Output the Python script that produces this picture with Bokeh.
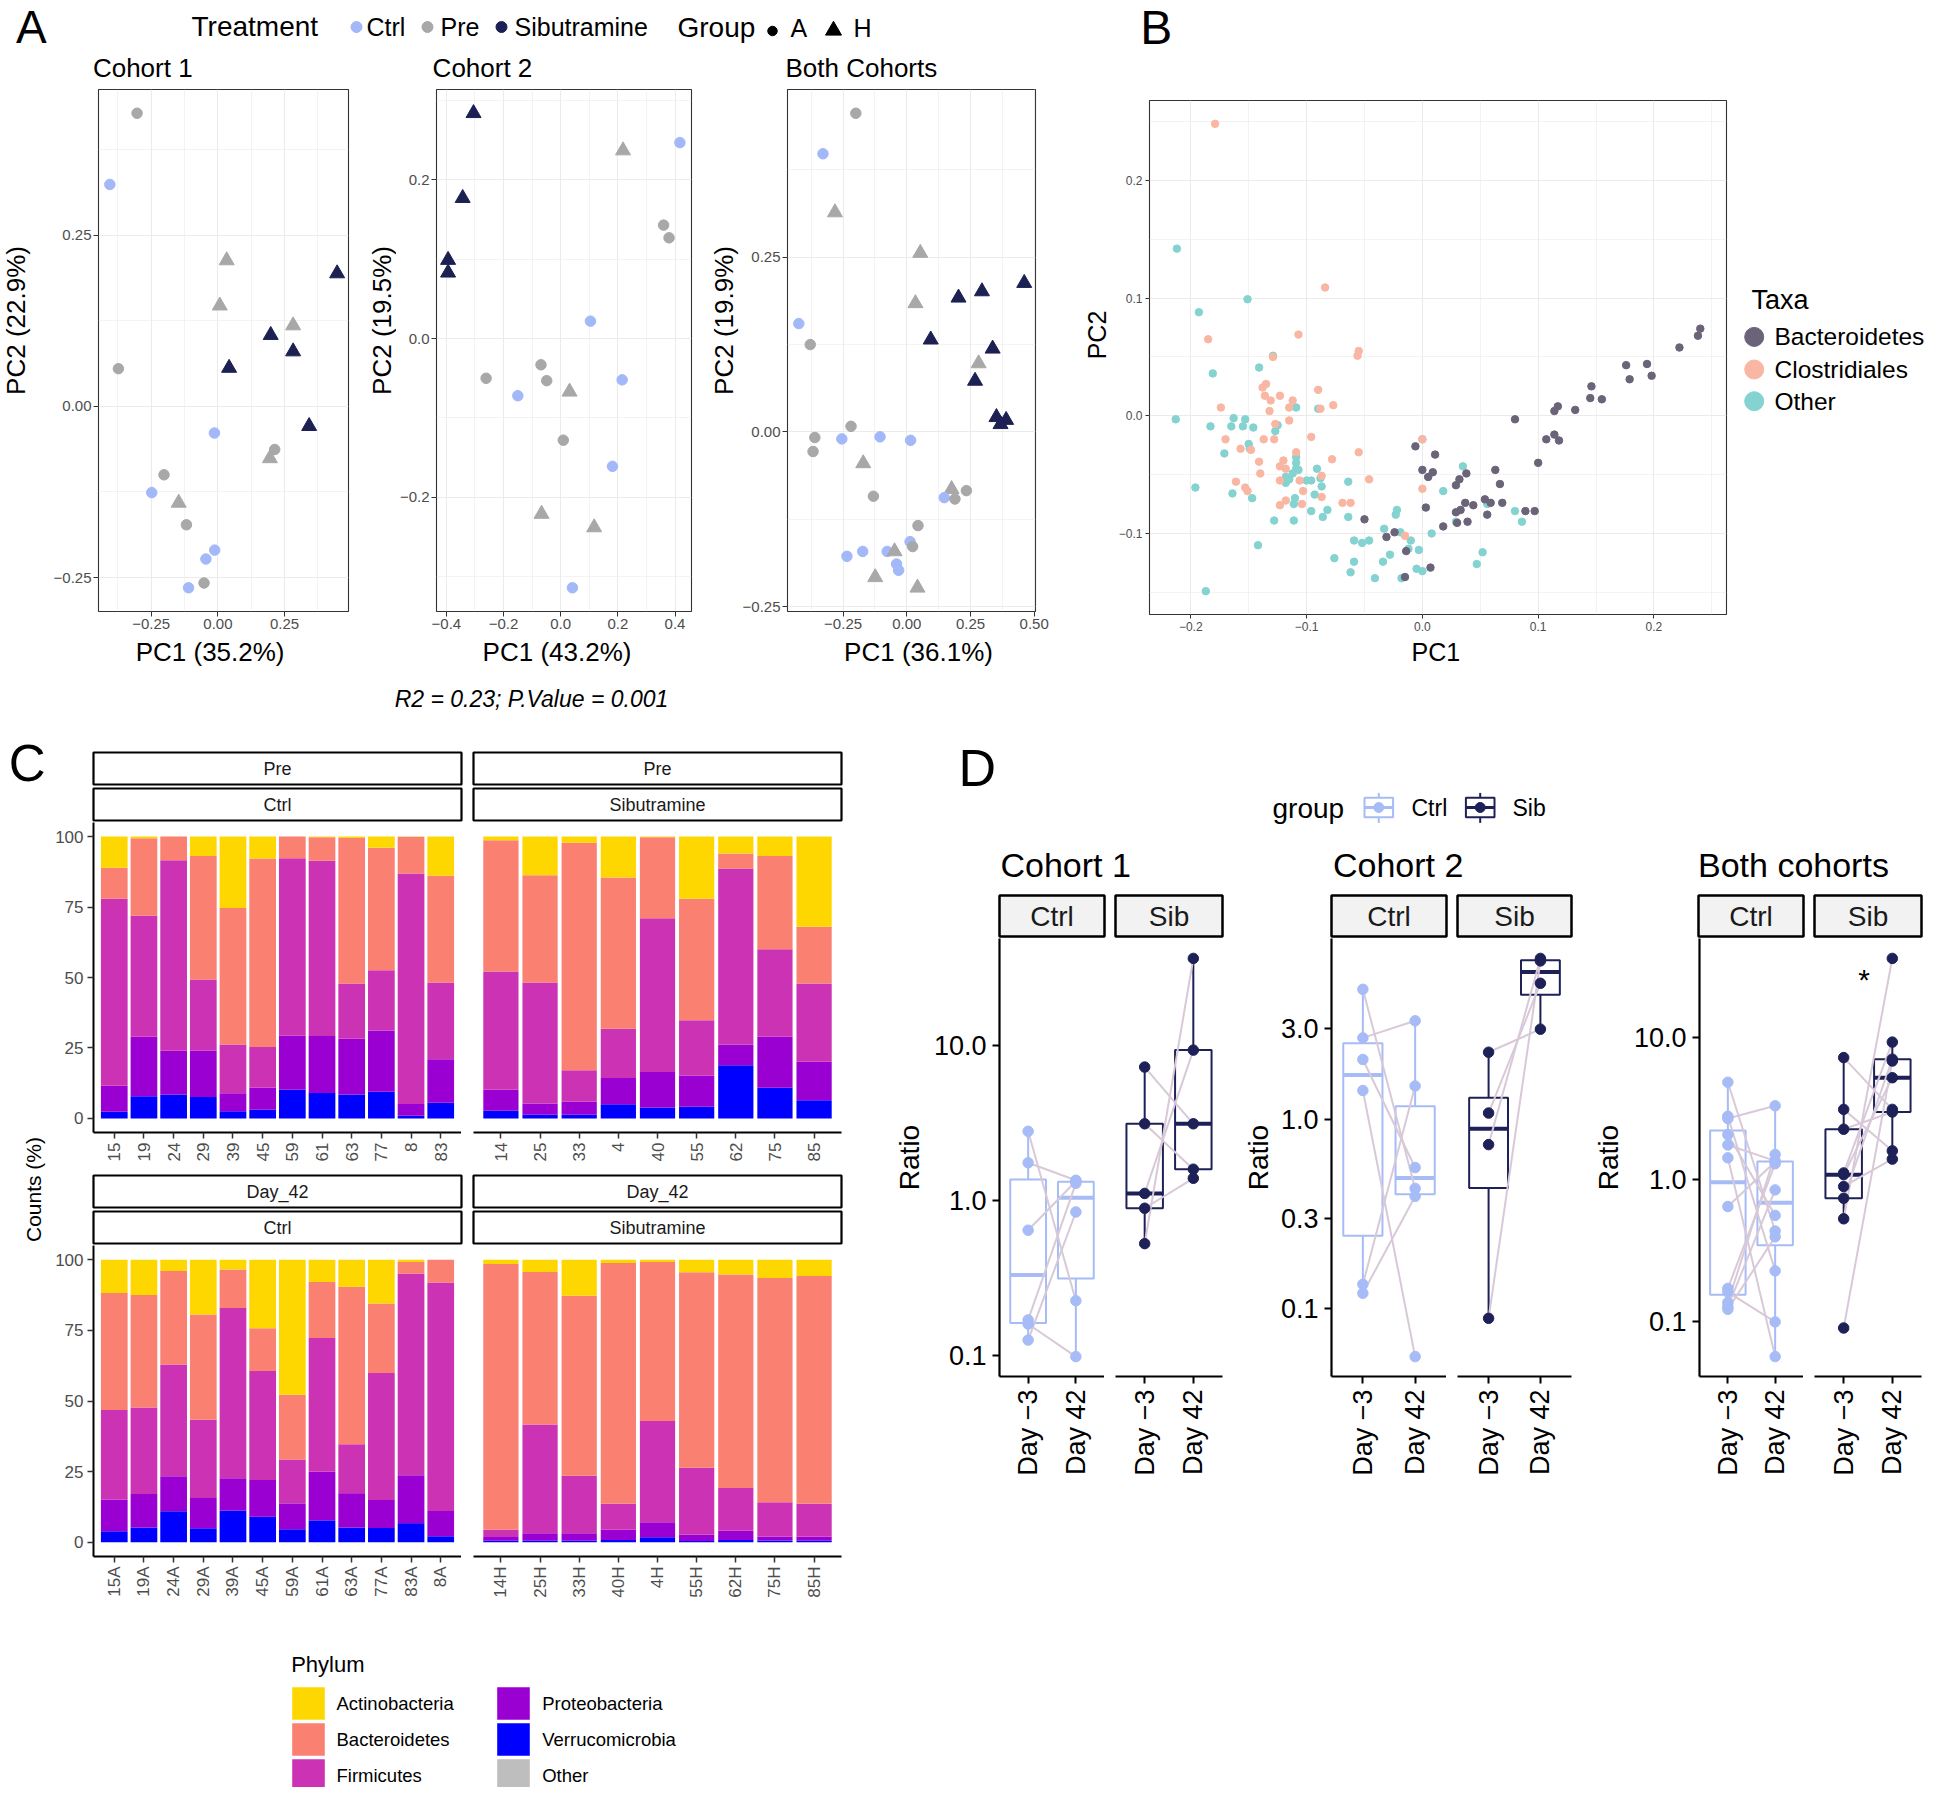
import math
import numpy as np
from bokeh.plotting import figure
from bokeh.layouts import row, column
from bokeh.models import (Range1d, FactorRange, FixedTicker, CustomJSTickFormatter,
                          Label, Spacer, ColumnDataSource)
from bokeh.embed import file_html
from bokeh.resources import INLINE

FONT = "Liberation Sans"

# ======================= DATA =======================
# ---- Panel A : PCoA scores (PC1, PC2), treatment, group ----
treatments = ["Ctrl", "Pre", "Sibutramine"]
groups = ["A", "H"]

c1_pc1 = [-0.303, -0.405, 0.033, 0.447, 0.007, 0.282, 0.198, 0.282, -0.373, 0.042, 0.342,
          -0.013, 0.213, 0.195, -0.202, -0.248, -0.147, -0.118, -0.012, -0.045, -0.052, -0.110]
c1_pc2 = [0.428, 0.324, 0.213, 0.194, 0.147, 0.118, 0.104, 0.080, 0.055, 0.056, -0.029,
          -0.039, -0.063, -0.076, -0.100, -0.126, -0.141, -0.173, -0.210, -0.223, -0.258, -0.265]
c1_treat = ["Pre", "Ctrl", "Pre", "Sibutramine", "Pre", "Pre", "Sibutramine", "Sibutramine", "Pre",
            "Sibutramine", "Sibutramine", "Ctrl", "Pre", "Pre", "Pre", "Ctrl", "Pre", "Pre", "Ctrl",
            "Ctrl", "Pre", "Ctrl"]
c1_group = ["A", "A", "H", "H", "H", "H", "H", "H", "A", "H", "H", "A", "A", "H", "A", "A", "H",
            "A", "A", "A", "A", "A"]

c2_pc1 = [-0.305, 0.417, 0.218, -0.343, 0.360, 0.379, -0.394, -0.394, 0.104, -0.069, -0.261,
          -0.049, 0.215, 0.031, -0.150, 0.009, 0.181, -0.067, 0.117, 0.041]
c2_pc2 = [0.284, 0.247, 0.237, 0.177, 0.143, 0.127, 0.099, 0.083, 0.022, -0.033, -0.050,
          -0.053, -0.052, -0.067, -0.072, -0.128, -0.161, -0.221, -0.238, -0.314]
c2_treat = ["Sibutramine", "Ctrl", "Pre", "Sibutramine", "Pre", "Pre", "Sibutramine", "Sibutramine",
            "Ctrl", "Pre", "Pre", "Pre", "Ctrl", "Pre", "Ctrl", "Pre", "Ctrl", "Pre", "Pre", "Ctrl"]
c2_group = ["H", "A", "H", "H", "A", "A", "H", "H", "A", "A", "A", "A", "A", "H", "A", "A", "A",
            "H", "H", "A"]

cb_pc1 = [-0.200, -0.329, -0.282, 0.053, 0.461, 0.295, 0.203, 0.034, -0.424, 0.094, -0.379, 0.337,
          0.282, 0.268, 0.352, 0.390, 0.368, -0.219, -0.361, -0.255, -0.105, 0.015, -0.368, -0.171,
          -0.131, 0.176, 0.234, 0.147, 0.189, 0.044, 0.013, 0.023, -0.235, -0.173, -0.077, -0.048,
          -0.040, -0.032, -0.124, 0.042]
cb_pc2 = [0.456, 0.398, 0.314, 0.256, 0.213, 0.201, 0.192, 0.184, 0.155, 0.132, 0.125, 0.119,
          0.098, 0.073, 0.021, 0.017, 0.011, 0.008, -0.008, -0.010, -0.007, -0.012, -0.028, -0.045,
          -0.092, -0.082, -0.084, -0.094, -0.096, -0.134, -0.157, -0.164, -0.178, -0.171, -0.171,
          -0.171, -0.189, -0.198, -0.208, -0.223]
cb_treat = ["Pre", "Ctrl", "Pre", "Pre", "Sibutramine", "Sibutramine", "Sibutramine", "Pre", "Ctrl",
            "Sibutramine", "Pre", "Sibutramine", "Pre", "Sibutramine", "Sibutramine", "Sibutramine",
            "Sibutramine", "Pre", "Pre", "Ctrl", "Ctrl", "Ctrl", "Pre", "Pre", "Pre", "Pre", "Pre",
            "Ctrl", "Pre", "Pre", "Ctrl", "Pre", "Ctrl", "Ctrl", "Ctrl", "Pre", "Ctrl", "Ctrl", "Pre",
            "Pre"]
cb_group = ["A", "A", "H", "H", "H", "H", "H", "H", "A", "H", "A", "H", "H", "H", "H", "H", "H",
            "A", "A", "A", "A", "A", "A", "H", "A", "H", "A", "A", "A", "A", "A", "A", "A", "A",
            "A", "H", "A", "A", "H", "H"]

# ---- Panel B : taxa loadings ----
taxa = ["Bacteroidetes", "Clostridiales", "Other"]
bact_pc1 = [0.240, 0.238, 0.222, 0.176, 0.194, 0.179, 0.198, 0.146, 0.145, 0.155, 0.117, 0.114,
            0.132, 0.080, 0.107, 0.114, 0.118, 0.100, -0.006, 0.011, 0.000, 0.009, 0.005, 0.063,
            0.038, 0.032, 0.029, 0.067, 0.003, 0.037, 0.044, 0.054, 0.059, 0.069, 0.033, 0.029,
            0.056, 0.089, 0.097, 0.030, 0.039, 0.018, -0.050, -0.031, -0.024, -0.014, 0.007, -0.015]
bact_pc2 = [0.074, 0.068, 0.058, 0.043, 0.044, 0.031, 0.034, 0.025, 0.015, 0.014, 0.008, 0.004,
            0.005, -0.003, -0.020, -0.016, -0.021, -0.040, -0.026, -0.033, -0.046, -0.048, -0.052,
            -0.046, -0.049, -0.054, -0.059, -0.058, -0.078, -0.074, -0.076, -0.071, -0.074, -0.074,
            -0.080, -0.082, -0.084, -0.081, -0.081, -0.091, -0.090, -0.094, -0.088, -0.103, -0.099,
            -0.115, -0.129, -0.137]
clos_pc1 = [-0.179, -0.084, -0.185, -0.107, -0.055, -0.056, -0.129, -0.135, -0.138, -0.136, -0.131,
            -0.123, -0.112, -0.090, -0.115, -0.174, -0.132, -0.077, -0.088, -0.127, -0.115, -0.096,
            -0.170, -0.137, -0.128, -0.157, -0.148, -0.109, -0.055, -0.141, -0.078, -0.120, -0.123,
            -0.140, -0.118, -0.087, -0.161, -0.123, -0.106, -0.046, -0.153, -0.151, -0.103, -0.087,
            -0.123, -0.118, -0.104, -0.069, -0.062, 0.000, 0.000, -0.015]
clos_pc2 = [0.248, 0.109, 0.065, 0.069, 0.055, 0.051, 0.050, 0.027, 0.024, 0.017, 0.013, 0.017,
            0.013, 0.022, 0.007, 0.007, 0.004, 0.009, 0.006, -0.007, -0.004, -0.018, -0.020, -0.020,
            -0.020, -0.028, -0.029, -0.031, -0.031, -0.039, -0.037, -0.038, -0.043, -0.049, -0.045,
            -0.051, -0.056, -0.055, -0.055, -0.054, -0.061, -0.064, -0.064, -0.069, -0.076, -0.072,
            -0.075, -0.074, -0.074, -0.020, -0.062, -0.102]
oth_pc1 = [-0.212, -0.151, -0.193, -0.129, -0.141, -0.181, -0.109, -0.090, -0.213, -0.163, -0.153,
           -0.183, -0.165, -0.155, -0.146, -0.125, -0.127, -0.150, -0.149, -0.171, -0.109, -0.109,
           -0.091, -0.109, -0.107, -0.112, -0.118, -0.118, -0.115, -0.100, -0.096, -0.088, -0.087,
           -0.064, -0.196, -0.164, -0.147, -0.110, -0.093, -0.111, -0.096, -0.082, -0.086, -0.064,
           -0.128, -0.111, -0.142, -0.187, -0.022, -0.023, 0.000, 0.035, 0.018, 0.056, 0.080, 0.086,
           -0.033, -0.019, -0.010, 0.008, -0.059, -0.052, -0.046, -0.076, -0.059, -0.062, -0.034,
           -0.028, -0.041, -0.018, -0.012, -0.003, -0.005, 0.000, 0.047, 0.052, 0.029]
oth_pc2 = [0.142, 0.099, 0.088, 0.051, 0.041, 0.036, 0.007, 0.006, -0.003, -0.002, -0.003, -0.009,
           -0.009, -0.009, -0.010, -0.008, -0.013, -0.024, -0.028, -0.032, -0.035, -0.040, -0.045,
           -0.045, -0.046, -0.049, -0.052, -0.057, -0.054, -0.055, -0.055, -0.053, -0.060, -0.056,
           -0.061, -0.066, -0.070, -0.070, -0.067, -0.075, -0.081, -0.080, -0.086, -0.086, -0.089,
           -0.089, -0.110, -0.149, -0.080, -0.084, -0.020, -0.043, -0.064, -0.075, -0.081, -0.090,
           -0.096, -0.099, -0.106, -0.100, -0.106, -0.108, -0.106, -0.121, -0.124, -0.133, -0.124,
           -0.118, -0.138, -0.138, -0.113, -0.114, -0.130, -0.132, -0.126, -0.116, -0.090]

# ---- Panel C : relative abundance (%) per phylum ----
phyla = ["Actinobacteria", "Bacteroidetes", "Firmicutes", "Proteobacteria", "Verrucomicrobia", "Other"]

pre_ctrl_samples = ["15", "19", "24", "29", "39", "45", "59", "61", "63", "77", "8", "83"]
pre_ctrl_actino = [11.1, 0.6, 0.0, 6.9, 25.3, 7.8, 0.0, 0.2, 0.5, 4.0, 0.1, 13.9]
pre_ctrl_bact = [11.0, 27.5, 8.4, 43.8, 48.5, 66.9, 7.7, 8.4, 51.6, 43.4, 13.0, 37.9]
pre_ctrl_firm = [66.3, 42.9, 67.6, 25.3, 17.3, 14.4, 62.9, 62.2, 19.6, 21.4, 81.8, 27.2]
pre_ctrl_proteo = [9.2, 21.1, 15.5, 16.4, 6.4, 7.8, 19.2, 20.2, 19.8, 21.7, 4.2, 15.4]
pre_ctrl_verru = [2.4, 7.9, 8.5, 7.6, 2.5, 3.1, 10.2, 9.0, 8.5, 9.5, 0.9, 5.6]
pre_ctrl_other = [0.0] * 12

pre_sib_samples = ["14", "25", "33", "4", "40", "55", "62", "75", "85"]
pre_sib_actino = [1.3, 13.7, 2.2, 14.5, 0.2, 22.1, 6.0, 6.9, 32.0]
pre_sib_bact = [46.6, 38.1, 80.7, 53.7, 28.8, 43.1, 5.3, 33.1, 20.1]
pre_sib_firm = [41.9, 42.9, 11.1, 17.5, 54.5, 19.7, 62.5, 31.0, 27.8]
pre_sib_proteo = [7.5, 4.0, 4.7, 9.3, 12.6, 11.0, 7.3, 18.1, 13.7]
pre_sib_verru = [2.7, 1.3, 1.3, 5.0, 3.9, 4.1, 18.9, 10.9, 6.4]
pre_sib_other = [0.0] * 9

d42_ctrl_samples = ["15A", "19A", "24A", "29A", "39A", "45A", "59A", "61A", "63A", "77A", "83A", "8A"]
d42_ctrl_actino = [11.8, 12.5, 4.0, 19.4, 3.5, 24.3, 47.8, 7.9, 9.6, 15.5, 0.8, 0.0]
d42_ctrl_bact = [41.4, 39.8, 33.1, 37.2, 13.6, 15.1, 22.9, 19.8, 55.7, 24.6, 4.2, 8.1]
d42_ctrl_firm = [31.6, 30.6, 39.5, 27.7, 60.2, 38.5, 15.5, 47.3, 17.3, 44.9, 71.3, 80.8]
d42_ctrl_proteo = [11.3, 11.8, 12.4, 10.7, 11.4, 13.0, 9.2, 17.2, 12.1, 9.9, 16.9, 8.9]
d42_ctrl_verru = [3.9, 5.3, 11.0, 5.0, 11.3, 9.1, 4.6, 7.8, 5.3, 5.1, 6.8, 2.2]
d42_ctrl_other = [0.0] * 12

d42_sib_samples = ["14H", "25H", "33H", "40H", "4H", "55H", "62H", "75H", "85H"]
d42_sib_actino = [1.5, 4.4, 12.8, 1.2, 0.8, 4.5, 5.3, 6.5, 5.8]
d42_sib_bact = [94.0, 53.9, 63.6, 85.1, 56.3, 69.1, 75.5, 79.3, 80.5]
d42_sib_firm = [2.6, 38.5, 20.4, 9.2, 35.8, 23.6, 15.1, 12.1, 11.7]
d42_sib_proteo = [1.3, 2.6, 2.6, 3.7, 5.3, 2.3, 3.3, 1.4, 1.4]
d42_sib_verru = [0.6, 0.6, 0.6, 0.8, 1.8, 0.5, 0.8, 0.7, 0.6]
d42_sib_other = [0.0] * 9

# ---- Panel D : ratio, paired Day -3 / Day 42 per animal (same order in both lists) ----
days = ["Day \u22123", "Day 42"]
d_groups = ["Ctrl", "Sib"]
c1_ctrl_d3 = [2.79, 1.75, 0.643, 0.170, 0.160, 0.126]
c1_ctrl_d42 = [0.226, 1.35, 1.33, 1.29, 0.0986, 0.843]
c1_sib_d3 = [7.24, 3.12, 1.11, 0.891, 0.527]
c1_sib_d42 = [3.12, 1.59, 9.31, 1.39, 36.3]
c2_ctrl_d3 = [4.85, 2.69, 2.07, 1.42, 0.135, 0.121]
c2_ctrl_d42 = [0.432, 3.31, 0.557, 0.0561, 1.50, 0.393]
c2_sib_d3 = [2.26, 1.08, 0.736, 0.0893]
c2_sib_d42 = [2.99, 5.22, 7.06, 6.85]

# ======================= STYLE =======================
TREAT_COLORS = {"Ctrl": "#A3B8F9", "Pre": "#A8A8A8", "Sibutramine": "#1C2052"}
MARKERS = {"A": "circle", "H": "triangle"}
MSIZE = {"A": 10.5, "H": 15}
TAXA_COLORS = {"Bacteroidetes": "#6B6378", "Clostridiales": "#F9B7A3", "Other": "#84D3D1"}
PHYLUM_COLORS = {"Actinobacteria": "#FFD700", "Bacteroidetes": "#FA8072", "Firmicutes": "#CC33B4",
                 "Proteobacteria": "#9A00D2", "Verrucomicrobia": "#0000FF", "Other": "#BEBEBE"}
D_COLORS = {"Ctrl": "#A7BCF6", "Sib": "#1E2157"}
PAIR_LINE = "#D8C9D8"
GRID = "#EBEBEB"
TICK_TXT = "#4D4D4D"


def fmt(dec):
    return CustomJSTickFormatter(args=dict(d=dec), code="""
        const s = Math.abs(tick).toFixed(d);
        return (tick < -1e-9 ? "\\u2212" : "") + s;
    """)


def expand(vals, frac=0.05):
    lo, hi = min(vals), max(vals)
    d = (hi - lo) * frac
    return lo - d, hi + d


def lab(p, text, x, y, size, align="left", angle=0.0, color="black", style="normal"):
    """Text whose em-box middle sits at (x, y)."""
    p.add_layout(Label(x=x, y=y, x_units="data", y_units="data", text=text, text_font=FONT,
                       text_font_size=f"{size}px", text_align=align, text_baseline="middle",
                       angle=angle, text_color=color, text_font_style=style))


def pix_fig(w, h, bottom=0):
    """Blank canvas whose data units are pixels measured from its top-left corner.
    `bottom` matches the bottom border of sibling plots in the same row."""
    p = figure(width=w, height=h, x_range=Range1d(0, w), y_range=Range1d(h - bottom, 0),
               toolbar_location=None, tools="", output_backend="svg", min_border=0,
               min_border_bottom=bottom, x_axis_location=None, y_axis_location=None)
    p.outline_line_color = None
    p.grid.visible = False
    p.background_fill_color = "white"
    p.border_fill_color = "white"
    return p


def strip(text, w, h, fill, size, lw):
    p = figure(width=w, height=h, x_range=Range1d(0, 1), y_range=Range1d(0, 1),
               toolbar_location=None, tools="", output_backend="svg", min_border=2,
               x_axis_location=None, y_axis_location=None)
    p.grid.visible = False
    p.background_fill_color = fill
    p.border_fill_color = "white"
    p.outline_line_color = "black"
    p.outline_line_width = lw
    lab(p, text, 0.5, 0.5, size, align="center", color="#1A1A1A")
    return p


def ylab_fig(w, h, bottom, text, cx, cy, size):
    p = pix_fig(w, h, bottom)
    lab(p, text, cx, cy, size, align="center", angle=math.pi / 2)
    return p


# ======================= PANEL A =======================
def pca_fig(w, h, left, right, bottom, xs, ys, treat, grp, xt, xm, yt, ym, dec):
    x0, x1 = expand(xs)
    y0, y1 = expand(ys)
    p = figure(width=w, height=h, x_range=Range1d(x0, x1), y_range=Range1d(y0, y1),
               toolbar_location=None, tools="", output_backend="svg",
               min_border_left=left, min_border_right=right, min_border_top=0,
               min_border_bottom=bottom)
    p.outline_line_color = "#333333"
    p.outline_line_width = 1.1
    xtk = FixedTicker(ticks=xt, minor_ticks=xm)
    ytk = FixedTicker(ticks=yt, minor_ticks=ym)
    p.xaxis.ticker = xtk
    p.xgrid.ticker = xtk
    p.yaxis.ticker = ytk
    p.ygrid.ticker = ytk
    p.xaxis.formatter = fmt(dec[0])
    p.yaxis.formatter = fmt(dec[1])
    p.grid.grid_line_color = GRID
    p.grid.grid_line_width = 1.1
    p.grid.minor_grid_line_color = GRID
    p.grid.minor_grid_line_width = 0.6
    p.axis.axis_line_color = None
    p.axis.major_tick_line_color = "#333333"
    p.axis.major_tick_out = 5
    p.axis.major_tick_in = 0
    p.axis.minor_tick_out = 0
    p.axis.minor_tick_in = 0
    p.axis.major_label_text_font = FONT
    p.axis.major_label_text_font_size = "15px"
    p.axis.major_label_text_color = TICK_TXT
    p.axis.major_label_standoff = 2
    src = ColumnDataSource(dict(x=xs, y=ys, color=[TREAT_COLORS[t] for t in treat],
                                marker=[MARKERS[g] for g in grp], size=[MSIZE[g] for g in grp]))
    p.scatter("x", "y", marker="marker", size="size", fill_color="color", line_color="color",
              source=src)
    return p


AH, AB = 547, 25
fA1 = pca_fig(329, AH, 66, 13, AB, c1_pc1, c1_pc2, c1_treat, c1_group,
              [-0.25, 0, 0.25], [-0.375, -0.125, 0.125, 0.375],
              [-0.25, 0, 0.25], [-0.375, -0.125, 0.125, 0.375], (2, 2))
fA2 = pca_fig(305, AH, 36, 10, AB, c2_pc1, c2_pc2, c2_treat, c2_group,
              [-0.4, -0.2, 0, 0.2, 0.4], [-0.3, -0.1, 0.1, 0.3],
              [-0.2, 0, 0.2], [-0.3, -0.1, 0.1, 0.3], (1, 1))
fA3 = pca_fig(342, AH, 46, 46, AB, cb_pc1, cb_pc2, cb_treat, cb_group,
              [-0.25, 0, 0.25, 0.5], [-0.375, -0.125, 0.125, 0.375],
              [-0.25, 0, 0.25], [-0.375, -0.125, 0.125, 0.375], (2, 2))

pA1 = ylab_fig(32, AH, AB, "PC2 (22.9%)", 15.5, 231, 26)
pA2 = ylab_fig(35, AH, AB, "PC2 (19.5%)", 20, 231, 26)
pA3 = ylab_fig(38, AH, AB, "PC2 (19.9%)", 22.6, 231, 26)

hdrA = pix_fig(1081, 89)
lab(hdrA, "A", 15.6, 26.7, 46)
lab(hdrA, "Treatment", 191, 26.2, 28)
lab(hdrA, "Group", 677, 26.7, 28)
treat_key_x = [356, 427, 501]
treat_txt_x = [366, 440, 514]
hdrA.scatter(treat_key_x, [26.5] * 3, marker="circle", size=11,
             color=[TREAT_COLORS[t] for t in treatments])
for t, x in zip(treatments, treat_txt_x):
    lab(hdrA, t, x, 26.5, 25)
hdrA.scatter([772], [30.5], marker="circle", size=9.5, color="black")
hdrA.scatter([833], [30], marker="triangle", size=16, color="black")
lab(hdrA, groups[0], 790, 27, 25)
lab(hdrA, groups[1], 853, 27, 25)
lab(hdrA, "Cohort 1", 92.4, 67.2, 26)
lab(hdrA, "Cohort 2", 432.1, 67.2, 26)
lab(hdrA, "Both Cohorts", 785, 67.2, 26)

ftrA = pix_fig(1081, 94)
lab(ftrA, "PC1 (35.2%)", 209.6, 15.5, 26, align="center")
lab(ftrA, "PC1 (43.2%)", 556.5, 15.5, 26, align="center")
lab(ftrA, "PC1 (36.1%)", 918, 15.5, 26, align="center")
lab(ftrA, "R2 = 0.23; P.Value = 0.001", 531, 62, 23, align="center", style="italic")

colA = column(hdrA, row(pA1, fA1, pA2, fA2, pA3, fA3), ftrA)

# ======================= PANEL B =======================
all_b_x = bact_pc1 + clos_pc1 + oth_pc1
all_b_y = bact_pc2 + clos_pc2 + oth_pc2
bx0, bx1 = expand(all_b_x)
by0, by1 = expand(all_b_y)
BH, BB = 536, 22
fB = figure(width=628, height=BH, x_range=Range1d(bx0, bx1), y_range=Range1d(by0, by1),
            toolbar_location=None, tools="", output_backend="svg",
            min_border_left=37, min_border_right=14, min_border_top=0, min_border_bottom=BB)
fB.outline_line_color = "#333333"
fB.outline_line_width = 1.1
bxt = FixedTicker(ticks=[-0.2, -0.1, 0, 0.1, 0.2], minor_ticks=[-0.25, -0.15, -0.05, 0.05, 0.15, 0.25])
byt = FixedTicker(ticks=[-0.1, 0, 0.1, 0.2], minor_ticks=[-0.15, -0.05, 0.05, 0.15, 0.25])
fB.xaxis.ticker = bxt
fB.xgrid.ticker = bxt
fB.yaxis.ticker = byt
fB.ygrid.ticker = byt
fB.xaxis.formatter = fmt(1)
fB.yaxis.formatter = fmt(1)
fB.grid.grid_line_color = GRID
fB.grid.grid_line_width = 1.1
fB.grid.minor_grid_line_color = GRID
fB.grid.minor_grid_line_width = 0.6
fB.axis.axis_line_color = None
fB.axis.major_tick_line_color = "#333333"
fB.axis.major_tick_out = 4
fB.axis.major_tick_in = 0
fB.axis.minor_tick_out = 0
fB.axis.minor_tick_in = 0
fB.axis.major_label_text_font = FONT
fB.axis.major_label_text_font_size = "12px"
fB.axis.major_label_text_color = TICK_TXT
fB.axis.major_label_standoff = 3
fB.scatter(oth_pc1, oth_pc2, size=7.5, color=TAXA_COLORS["Other"])
fB.scatter(clos_pc1, clos_pc2, size=7.5, color=TAXA_COLORS["Clostridiales"])
fB.scatter(bact_pc1, bact_pc2, size=7.5, color=TAXA_COLORS["Bacteroidetes"])

hdrB = pix_fig(847, 100)
lab(hdrB, "B", 58.8, 27.2, 48)
pB = ylab_fig(31, BH, BB, "PC2", 15.5, 234.5, 25)
legB = pix_fig(188, BH, BB)
lab(legB, "Taxa", 11, 199.3, 27)
taxa_key_y = [236.4, 269, 300.7]
legB.scatter([13.7] * 3, taxa_key_y, size=19, color=[TAXA_COLORS[t] for t in taxa])
for t, y in zip(taxa, taxa_key_y):
    lab(legB, t, 34, y, 24.5)
ftrB = pix_fig(847, 94)
lab(ftrB, "PC1", 354.3, 15.5, 25, align="center")

colB = column(hdrB, row(pB, fB, legB), ftrB)
top = row(colA, colB)

# ======================= PANEL C =======================
STACK = ["Other", "Verrucomicrobia", "Proteobacteria", "Firmicutes", "Bacteroidetes", "Actinobacteria"]


def facet(samples, data, w, h, left, right, bottom, show_y):
    xr = FactorRange(factors=samples, range_padding=0.2, range_padding_units="absolute")
    p = figure(width=w, height=h, x_range=xr, y_range=Range1d(-5, 105), toolbar_location=None,
               tools="", output_backend="svg", min_border_left=left, min_border_right=right,
               min_border_top=0, min_border_bottom=bottom,
               y_axis_location="left" if show_y else None)
    p.outline_line_color = None
    p.grid.visible = False
    src = ColumnDataSource(dict(sample=samples, **data))
    p.vbar_stack(STACK, x="sample", width=0.9, source=src,
                 fill_color=[PHYLUM_COLORS[s] for s in STACK], line_color=None)
    p.axis.axis_line_color = "black"
    p.axis.axis_line_width = 2
    p.axis.major_tick_line_color = "#333333"
    p.axis.major_tick_line_width = 1.5
    p.axis.major_tick_out = 6
    p.axis.major_tick_in = 0
    p.axis.minor_tick_out = 0
    p.axis.minor_tick_in = 0
    p.axis.major_label_text_font = FONT
    p.axis.major_label_text_font_size = "17px"
    p.axis.major_label_text_color = TICK_TXT
    p.axis.major_label_standoff = 4
    p.xaxis.major_label_orientation = math.pi / 2
    if show_y:
        p.yaxis.ticker = FixedTicker(ticks=[0, 25, 50, 75, 100])
    return p


def pdata(a, b, f, pr, v, o):
    return {"Actinobacteria": a, "Bacteroidetes": b, "Firmicutes": f, "Proteobacteria": pr,
            "Verrucomicrobia": v, "Other": o}


fCTL = facet(pre_ctrl_samples, pdata(pre_ctrl_actino, pre_ctrl_bact, pre_ctrl_firm, pre_ctrl_proteo,
                                     pre_ctrl_verru, pre_ctrl_other), 415, 351, 47, 0, 41, True)
fCTR = facet(pre_sib_samples, pdata(pre_sib_actino, pre_sib_bact, pre_sib_firm, pre_sib_proteo,
                                    pre_sib_verru, pre_sib_other), 400, 351, 12, 20, 41, False)
fCBL = facet(d42_ctrl_samples, pdata(d42_ctrl_actino, d42_ctrl_bact, d42_ctrl_firm, d42_ctrl_proteo,
                                     d42_ctrl_verru, d42_ctrl_other), 415, 395, 47, 0, 84, True)
fCBR = facet(d42_sib_samples, pdata(d42_sib_actino, d42_sib_bact, d42_sib_firm, d42_sib_proteo,
                                    d42_sib_verru, d42_sib_other), 400, 395, 12, 20, 84, False)


def strip_row_c(t1, t2):
    return row(Spacer(width=45, height=36), strip(t1, 372, 36, "white", 18, 2.2),
               Spacer(width=8, height=36), strip(t2, 372, 36, "white", 18, 2.2),
               Spacer(width=18, height=36))


legC = pix_fig(815, 147)
lab(legC, "Phylum", 244.7, 23.5, 22)
key_cols_x = [262, 467]
txt_cols_x = [290, 495.7]
key_rows_y = [63, 99, 135]
kx = [key_cols_x[i // 3] for i in range(len(phyla))]
ky = [key_rows_y[i % 3] for i in range(len(phyla))]
legC.rect(kx, ky, width=32.6, height=32.6, fill_color=[PHYLUM_COLORS[p] for p in phyla],
          line_color=None)
for i, ph in enumerate(phyla):
    lab(legC, ph, txt_cols_x[i // 3], key_rows_y[i % 3], 18.5)

cInner = column(Spacer(width=815, height=20),
                strip_row_c("Pre", "Pre"),
                strip_row_c("Ctrl", "Sibutramine"),
                row(fCTL, fCTR),
                strip_row_c("Day_42", "Day_42"),
                strip_row_c("Ctrl", "Sibutramine"),
                row(fCBL, fCBR),
                legC)
cLab = pix_fig(46, 1057)
lab(cLab, "C", 8.2, 33.2, 51)
lab(cLab, "Counts (%)", 33, 459, 21, align="center", angle=math.pi / 2)
panelC = row(cLab, cInner)

# ======================= PANEL D =======================


def box_stats(vals):
    lv = np.log10(np.asarray(vals, dtype=float))
    q1, med, q3 = np.percentile(lv, [25, 50, 75])
    iqr = q3 - q1
    lo = lv[lv >= q1 - 1.5 * iqr].min()
    hi = lv[lv <= q3 + 1.5 * iqr].max()
    return [10 ** q1, 10 ** med, 10 ** q3, 10 ** lo, 10 ** hi]


def log_range(vals, frac=0.05):
    lv = np.log10(np.asarray(vals, dtype=float))
    d = (lv.max() - lv.min()) * frac
    return 10 ** (lv.min() - d), 10 ** (lv.max() + d)


DH, DB = 558, 120


def d_fig(w, left, right, d3, d42, grp, yr, show_y, yticks=None, star=None):
    n_cat = len(days)
    p = figure(width=w, height=DH, x_range=Range1d(1 - 0.6, n_cat + 0.6), y_range=Range1d(*yr),
               y_axis_type="log", toolbar_location=None, tools="", output_backend="svg",
               min_border_left=left, min_border_right=right, min_border_top=0,
               min_border_bottom=DB, y_axis_location="left" if show_y else None)
    p.outline_line_color = None
    p.grid.visible = False
    color = D_COLORS[grp]
    xs = [i + 1 for i in range(n_cat)]
    st = [box_stats(v) for v in (d3, d42)]
    src = ColumnDataSource(dict(x=xs, left=[x - 0.375 for x in xs], right=[x + 0.375 for x in xs],
                                q1=[s[0] for s in st], med=[s[1] for s in st],
                                q3=[s[2] for s in st], lo=[s[3] for s in st],
                                hi=[s[4] for s in st]))
    p.segment(x0="x", y0="q3", x1="x", y1="hi", source=src, line_color=color, line_width=2)
    p.segment(x0="x", y0="q1", x1="x", y1="lo", source=src, line_color=color, line_width=2)
    p.quad(left="left", right="right", bottom="q1", top="q3", source=src, fill_color="white",
           line_color=color, line_width=2)
    p.segment(x0="left", y0="med", x1="right", y1="med", source=src, line_color=color,
              line_width=4)
    n = len(d3)
    p.segment(x0=[xs[0]] * n, y0=d3, x1=[xs[1]] * n, y1=d42, line_color=PAIR_LINE, line_width=2)
    p.scatter([xs[0]] * n + [xs[1]] * n, list(d3) + list(d42), size=10.5, color=color)
    p.xaxis.ticker = FixedTicker(ticks=xs)
    p.xaxis.formatter = CustomJSTickFormatter(args=dict(labels=days),
                                              code="return labels[Math.round(tick) - 1] || '';")
    p.xaxis.major_label_orientation = math.pi / 2
    p.axis.axis_line_color = "black"
    p.axis.axis_line_width = 2.2
    p.axis.major_tick_line_color = "black"
    p.axis.major_tick_line_width = 2
    p.axis.major_tick_out = 7
    p.axis.major_tick_in = 0
    p.axis.minor_tick_out = 0
    p.axis.minor_tick_in = 0
    p.axis.major_label_text_font = FONT
    p.axis.major_label_text_font_size = "27px"
    p.axis.major_label_text_color = "black"
    p.axis.major_label_standoff = 6
    if show_y:
        p.yaxis.ticker = FixedTicker(ticks=yticks)
        p.yaxis.formatter = fmt(1)
    if star is not None:
        p.add_layout(Label(x=star[0], y=star[1], text="*", text_font=FONT, text_font_size="30px",
                           text_align="center", text_baseline="middle", text_color="black"))
    return p


both_ctrl_d3 = c1_ctrl_d3 + c2_ctrl_d3
both_ctrl_d42 = c1_ctrl_d42 + c2_ctrl_d42
both_sib_d3 = c1_sib_d3 + c2_sib_d3
both_sib_d42 = c1_sib_d42 + c2_sib_d42

yr1 = log_range(c1_ctrl_d3 + c1_ctrl_d42 + c1_sib_d3 + c1_sib_d42)
yr2 = log_range(c2_ctrl_d3 + c2_ctrl_d42 + c2_sib_d3 + c2_sib_d42)
yr3 = log_range(both_ctrl_d3 + both_ctrl_d42 + both_sib_d3 + both_sib_d42)

D1c = d_fig(179, 74, 0, c1_ctrl_d3, c1_ctrl_d42, "Ctrl", yr1, True, [0.1, 1, 10])
D1s = d_fig(129, 11, 11, c1_sib_d3, c1_sib_d42, "Sib", yr1, False)
D2c = d_fig(172, 57, 0, c2_ctrl_d3, c2_ctrl_d42, "Ctrl", yr2, True, [0.1, 0.3, 1, 3])
D2s = d_fig(139, 11, 14, c2_sib_d3, c2_sib_d42, "Sib", yr2, False)
D3c = d_fig(173, 68, 0, both_ctrl_d3, both_ctrl_d42, "Ctrl", yr3, True, [0.1, 1, 10])
D3s = d_fig(125, 11, 7, both_sib_d3, both_sib_d42, "Sib", yr3, False, star=(1.42, 25.6))
R1 = ylab_fig(64, DH, DB, "Ratio", 47.5, 219, 28)
R2 = ylab_fig(41, DH, DB, "Ratio", 24.5, 219, 28)
R3 = ylab_fig(45, DH, DB, "Ratio", 23, 219, 28)

hdrD = pix_fig(1067, 163)
lab(hdrD, "D", 97, 37.8, 52)
lab(hdrD, "group", 411, 77.5, 28)
key_x = [517.3, 618.7]
key_txt_x = [550, 651]
for g, kxx, tx in zip(d_groups, key_x, key_txt_x):
    c = D_COLORS[g]
    hdrD.segment([kxx], [62.4], [kxx], [92.4], line_color=c, line_width=2)
    hdrD.rect([kxx], [77], width=28.6, height=19.4, fill_color="white", line_color=c, line_width=2)
    hdrD.segment([kxx - 14.3], [77], [kxx + 14.3], [77], line_color=c, line_width=3)
    hdrD.scatter([kxx], [77], size=10, color=c)
    lab(hdrD, g, tx, 77, 23)
lab(hdrD, "Cohort 1", 139, 134.8, 34)
lab(hdrD, "Cohort 2", 471.5, 134.8, 34)
lab(hdrD, "Both cohorts", 836.5, 134.8, 34)

SF = "#F2F2F2"
stripD = row(Spacer(width=136, height=45), strip("Ctrl", 109, 45, SF, 28, 2.5),
             Spacer(width=7, height=45), strip("Sib", 111, 45, SF, 28, 2.5),
             Spacer(width=105, height=45), strip("Ctrl", 119, 45, SF, 28, 2.5),
             Spacer(width=7, height=45), strip("Sib", 118, 45, SF, 28, 2.5),
             Spacer(width=123, height=45), strip("Ctrl", 109, 45, SF, 28, 2.5),
             Spacer(width=7, height=45), strip("Sib", 111, 45, SF, 28, 2.5),
             Spacer(width=5, height=45))

colD = column(hdrD, stripD, row(R1, D1c, D1s, R2, D2c, D2s, R3, D3c, D3s))

bottom = row(panelC, colD)
root = column(top, bottom)

open("out.html", "w").write(file_html(root, INLINE))
